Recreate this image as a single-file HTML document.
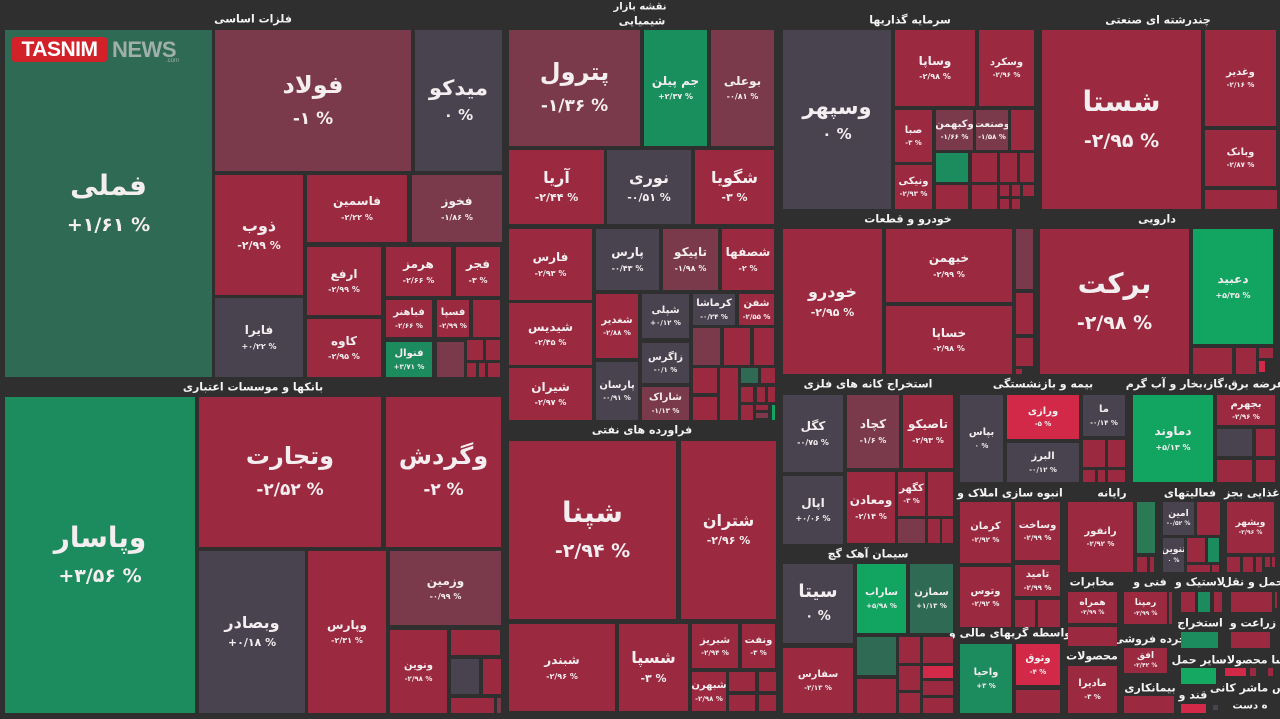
<!DOCTYPE html>
<html><head><meta charset="utf-8">
<style>
html,body{margin:0;padding:0}
body{width:1280px;height:719px;background:#2f2f2f;position:relative;overflow:hidden;font-family:"DejaVu Sans","Liberation Sans",sans-serif}
.t{position:absolute;display:flex;flex-direction:column;align-items:center;justify-content:center;color:#f4eef0;overflow:hidden;font-weight:bold;line-height:1.15;white-space:nowrap;direction:rtl}
.t b{font-weight:bold}
.t i{font-style:normal;direction:ltr;unicode-bidi:bidi-override}
.r{background:#9b2a40}.m{background:#7b3a4b}.g{background:#48434e}.dg{background:#2e6a54}.gr{background:#1c8b5d}.bg{background:#12a461}.br{background:#d12947}
.A b{font-size:28px}.A i{font-size:19px;margin-top:12px}
.B b{font-size:24px}.B i{font-size:17px;margin-top:10px}
.B2 b{font-size:21px}.B2 i{font-size:15px;margin-top:7px}
.C b{font-size:16px}.C i{font-size:11px;margin-top:5px}
.D b{font-size:12px}.D i{font-size:8px;margin-top:4px}
.E b{font-size:10px}.E i{font-size:7px;margin-top:3px}
.F b{font-size:9px}.F i{font-size:6px;margin-top:2px}
.l{position:absolute;transform:translate(-50%,-50%);color:#f4f4f4;font-weight:bold;font-size:11px;white-space:nowrap;direction:rtl}
</style></head><body>

<div class="l" style="left:640px;top:7px;font-size:10px">نقشه بازار</div>
<div class="l" style="left:253px;top:19px">فلزات اساسی</div>
<div class="l" style="left:642px;top:21px">شیمیایی</div>
<div class="l" style="left:910px;top:20px">سرمایه گذاریها</div>
<div class="l" style="left:1158px;top:20px">چندرشته ای صنعتی</div>
<div class="l" style="left:908px;top:219px">خودرو و قطعات</div>
<div class="l" style="left:1157px;top:219px">دارویی</div>
<div class="l" style="left:253px;top:387px">بانکها و موسسات اعتباری</div>
<div class="l" style="left:642px;top:430px">فراورده های نفتی</div>
<div class="l" style="left:868px;top:384px">استخراج کانه های فلزی</div>
<div class="l" style="left:1043px;top:384px">بیمه و بازنشستگی</div>
<div class="l" style="left:1205px;top:384px">عرضه برق،گاز،بخار و آب گرم</div>
<div class="l" style="left:868px;top:554px">سیمان آهک گچ</div>
<div class="l" style="left:1010px;top:493px">انبوه سازی املاک و</div>
<div class="l" style="left:1112px;top:493px">رایانه</div>
<div class="l" style="left:1190px;top:493px">فعالیتهای</div>
<div class="l" style="left:1252px;top:493px">غذایی بجز</div>
<div class="l" style="left:1092px;top:582px">مخابرات</div>
<div class="l" style="left:1150px;top:582px">فنی و</div>
<div class="l" style="left:1200px;top:582px">لاستیک و</div>
<div class="l" style="left:1253px;top:582px">حمل و نقل</div>
<div class="l" style="left:1200px;top:623px">استخراج</div>
<div class="l" style="left:1253px;top:623px">زراعت و</div>
<div class="l" style="left:1010px;top:633px">واسطه گریهای مالی و</div>
<div class="l" style="left:1092px;top:656px">محصولات</div>
<div class="l" style="left:1150px;top:639px">خرده فروشی</div>
<div class="l" style="left:1199px;top:660px">سایر حمل</div>
<div class="l" style="left:1253px;top:660px">اسا محصولات</div>
<div class="l" style="left:1150px;top:688px">بیمانکاری</div>
<div class="l" style="left:1193px;top:695px">قند و</div>
<div class="l" style="left:1252px;top:688px">وس ماشر کانی</div>
<div class="l" style="left:1250px;top:706px;font-size:10px">ه دست</div>

<!-- Metals -->
<div class="t dg A" style="left:5px;top:30px;width:207px;height:347px"><b>فملی</b><i>+۱/۶۱ %</i></div>
<div class="t m B" style="left:215px;top:30px;width:196px;height:141px"><b>فولاد</b><i>-۱ %</i></div>
<div class="t g B2" style="left:415px;top:30px;width:87px;height:141px"><b>میدکو</b><i>۰ %</i></div>
<div class="t r C" style="left:215px;top:175px;width:88px;height:120px"><b>ذوب</b><i>-۲/۹۹ %</i></div>
<div class="t g D" style="left:215px;top:298px;width:88px;height:79px"><b>فایرا</b><i>+۰/۲۲ %</i></div>
<div class="t r D" style="left:307px;top:175px;width:100px;height:67px"><b>فاسمین</b><i>-۲/۲۲ %</i></div>
<div class="t m D" style="left:412px;top:175px;width:90px;height:67px"><b>فخوز</b><i>-۱/۸۶ %</i></div>
<div class="t r D" style="left:307px;top:247px;width:74px;height:68px"><b>ارفع</b><i>-۲/۹۹ %</i></div>
<div class="t r D" style="left:307px;top:319px;width:74px;height:58px"><b>کاوه</b><i>-۲/۹۵ %</i></div>
<div class="t r D" style="left:386px;top:247px;width:65px;height:49px"><b>هرمز</b><i>-۲/۶۶ %</i></div>
<div class="t r D" style="left:456px;top:247px;width:44px;height:49px"><b>فجر</b><i>-۳ %</i></div>
<div class="t r E" style="left:386px;top:300px;width:46px;height:37px"><b>فباهنر</b><i>-۲/۶۶ %</i></div>
<div class="t r E" style="left:437px;top:300px;width:32px;height:37px"><b>فسپا</b><i>-۲/۹۹ %</i></div>
<div class="t r" style="left:473px;top:300px;width:27px;height:37px"></div>
<div class="t gr E" style="left:386px;top:342px;width:46px;height:35px"><b>فنوال</b><i>+۳/۷۱ %</i></div>
<div class="t m" style="left:437px;top:342px;width:27px;height:35px"></div>
<div class="t r" style="left:467px;top:340px;width:16px;height:20px"></div>
<div class="t r" style="left:486px;top:340px;width:14px;height:20px"></div>
<div class="t r" style="left:467px;top:363px;width:9px;height:14px"></div>
<div class="t r" style="left:479px;top:363px;width:6px;height:14px"></div>
<div class="t r" style="left:488px;top:363px;width:12px;height:14px"></div>

<!-- TASNIM logo -->
<div style="position:absolute;left:12px;top:37px;width:95px;height:25px;background:#d3212a;border-radius:3px;color:#fff;font-family:'Liberation Sans',sans-serif;font-weight:bold;font-size:21px;line-height:25px;text-align:center;letter-spacing:-0.5px">TASNIM</div>
<div style="position:absolute;left:112px;top:37px;width:68px;height:25px;color:#9fb0aa;font-family:'Liberation Sans',sans-serif;font-weight:bold;font-size:22px;line-height:25px;letter-spacing:-0.5px">NEWS</div>
<div style="position:absolute;left:166px;top:58px;color:#9fb0aa;font-family:'Liberation Sans',sans-serif;font-size:6px">.com</div>

<!-- Banks -->
<div class="t gr A" style="left:5px;top:397px;width:190px;height:316px"><b>وپاسار</b><i>+۳/۵۶ %</i></div>
<div class="t r B" style="left:199px;top:397px;width:182px;height:150px"><b>وتجارت</b><i>-۲/۵۲ %</i></div>
<div class="t r B" style="left:386px;top:397px;width:115px;height:150px"><b>وگردش</b><i>-۲ %</i></div>
<div class="t g C" style="left:199px;top:551px;width:106px;height:162px"><b>وبصادر</b><i>+۰/۱۸ %</i></div>
<div class="t r D" style="left:308px;top:551px;width:78px;height:162px"><b>وپارس</b><i>-۲/۳۱ %</i></div>
<div class="t m D" style="left:390px;top:551px;width:111px;height:74px"><b>وزمین</b><i>-۰/۹۹ %</i></div>
<div class="t r E" style="left:390px;top:630px;width:57px;height:83px"><b>ونوین</b><i>-۲/۹۸ %</i></div>
<div class="t r" style="left:451px;top:630px;width:49px;height:25px"></div>
<div class="t g" style="left:451px;top:659px;width:28px;height:35px"></div>
<div class="t r" style="left:483px;top:659px;width:18px;height:35px"></div>
<div class="t r" style="left:451px;top:698px;width:43px;height:15px"></div>
<div class="t m" style="left:497px;top:698px;width:4px;height:15px"></div>

<!-- Chemistry -->
<div class="t m B" style="left:509px;top:30px;width:131px;height:116px"><b>پترول</b><i>-۱/۳۶ %</i></div>
<div class="t gr D" style="left:644px;top:30px;width:63px;height:116px;background:#1a8f5e"><b>جم پیلن</b><i>+۲/۳۷ %</i></div>
<div class="t m D" style="left:711px;top:30px;width:63px;height:116px"><b>بوعلی</b><i>-۰/۸۱ %</i></div>
<div class="t r C" style="left:509px;top:150px;width:95px;height:74px"><b>آریا</b><i>-۲/۴۴ %</i></div>
<div class="t g C" style="left:607px;top:150px;width:84px;height:74px"><b>نوری</b><i>-۰/۵۱ %</i></div>
<div class="t r C" style="left:695px;top:150px;width:79px;height:74px"><b>شگویا</b><i>-۳ %</i></div>
<div class="t r D" style="left:509px;top:229px;width:83px;height:71px"><b>فارس</b><i>-۲/۹۳ %</i></div>
<div class="t g D" style="left:596px;top:229px;width:63px;height:61px"><b>پارس</b><i>-۰/۴۳ %</i></div>
<div class="t m D" style="left:663px;top:229px;width:55px;height:61px"><b>تاپیکو</b><i>-۱/۹۸ %</i></div>
<div class="t r D" style="left:722px;top:229px;width:52px;height:61px"><b>شصفها</b><i>-۲ %</i></div>
<div class="t r D" style="left:509px;top:303px;width:83px;height:62px"><b>شیدیس</b><i>-۲/۴۵ %</i></div>
<div class="t r D" style="left:509px;top:368px;width:83px;height:52px"><b>شیران</b><i>-۲/۹۷ %</i></div>
<div class="t r E" style="left:596px;top:294px;width:42px;height:64px"><b>شغدیر</b><i>-۲/۸۸ %</i></div>
<div class="t g E" style="left:596px;top:362px;width:42px;height:58px"><b>پارسان</b><i>-۰/۹۱ %</i></div>
<div class="t g E" style="left:642px;top:294px;width:47px;height:44px"><b>شپلی</b><i>+۰/۱۲ %</i></div>
<div class="t g E" style="left:642px;top:343px;width:47px;height:40px"><b>زاگرس</b><i>-۰/۱ %</i></div>
<div class="t m E" style="left:642px;top:387px;width:47px;height:33px"><b>شاراک</b><i>-۱/۱۳ %</i></div>
<div class="t g E" style="left:693px;top:294px;width:42px;height:31px"><b>کرماشا</b><i>-۰/۲۴ %</i></div>
<div class="t r E" style="left:739px;top:294px;width:35px;height:31px"><b>شفن</b><i>-۲/۵۵ %</i></div>
<div class="t m" style="left:693px;top:328px;width:27px;height:37px"></div>
<div class="t r" style="left:724px;top:328px;width:26px;height:37px"></div>
<div class="t r" style="left:754px;top:328px;width:20px;height:37px"></div>
<div class="t r" style="left:693px;top:368px;width:24px;height:25px"></div>
<div class="t r" style="left:693px;top:397px;width:24px;height:23px"></div>
<div class="t r" style="left:720px;top:368px;width:18px;height:52px"></div>
<div class="t dg" style="left:741px;top:368px;width:17px;height:15px"></div>
<div class="t r" style="left:761px;top:368px;width:14px;height:15px"></div>
<div class="t r" style="left:741px;top:387px;width:12px;height:15px"></div>
<div class="t r" style="left:757px;top:387px;width:8px;height:15px"></div>
<div class="t r" style="left:768px;top:387px;width:7px;height:15px"></div>
<div class="t r" style="left:741px;top:405px;width:12px;height:15px"></div>
<div class="t r" style="left:756px;top:405px;width:12px;height:5px"></div>
<div class="t m" style="left:756px;top:413px;width:12px;height:5px"></div>
<div class="t bg" style="left:772px;top:405px;width:3px;height:15px"></div>

<!-- Oil products -->
<div class="t r A" style="left:509px;top:441px;width:167px;height:178px"><b>شپنا</b><i>-۲/۹۴ %</i></div>
<div class="t r C" style="left:681px;top:441px;width:95px;height:178px"><b>شتران</b><i>-۲/۹۶ %</i></div>
<div class="t r D" style="left:509px;top:624px;width:106px;height:87px"><b>شبندر</b><i>-۲/۹۶ %</i></div>
<div class="t r C" style="left:619px;top:624px;width:69px;height:87px"><b>شسپا</b><i>-۳ %</i></div>
<div class="t r E" style="left:692px;top:624px;width:46px;height:44px"><b>شبریز</b><i>-۲/۹۴ %</i></div>
<div class="t r E" style="left:742px;top:624px;width:33px;height:44px"><b>ونفت</b><i>-۳ %</i></div>
<div class="t r E" style="left:692px;top:672px;width:34px;height:39px"><b>شبهرن</b><i>-۲/۹۸ %</i></div>
<div class="t r" style="left:729px;top:672px;width:26px;height:19px"></div>
<div class="t r" style="left:729px;top:695px;width:26px;height:16px"></div>
<div class="t r" style="left:759px;top:672px;width:17px;height:19px"></div>
<div class="t r" style="left:759px;top:695px;width:17px;height:16px"></div>

<!-- Investments -->
<div class="t g B2" style="left:783px;top:30px;width:108px;height:179px"><b>وسپهر</b><i>۰ %</i></div>
<div class="t r D" style="left:895px;top:30px;width:80px;height:76px"><b>وساپا</b><i>-۲/۹۸ %</i></div>
<div class="t r E" style="left:979px;top:30px;width:55px;height:76px"><b>وسکرد</b><i>-۲/۹۶ %</i></div>
<div class="t r E" style="left:895px;top:110px;width:37px;height:52px"><b>صبا</b><i>-۳ %</i></div>
<div class="t m E" style="left:936px;top:110px;width:37px;height:40px"><b>وکبهمن</b><i>-۱/۶۶ %</i></div>
<div class="t m E" style="left:976px;top:110px;width:32px;height:40px"><b>وصنعت</b><i>-۱/۵۸ %</i></div>
<div class="t r" style="left:1011px;top:110px;width:23px;height:40px"></div>
<div class="t r E" style="left:895px;top:165px;width:37px;height:44px"><b>ونیکی</b><i>-۲/۹۳ %</i></div>
<div class="t gr" style="left:936px;top:153px;width:32px;height:29px"></div>
<div class="t r" style="left:936px;top:185px;width:32px;height:24px"></div>
<div class="t r" style="left:972px;top:153px;width:25px;height:29px"></div>
<div class="t r" style="left:972px;top:185px;width:25px;height:24px"></div>
<div class="t r" style="left:1000px;top:153px;width:17px;height:29px"></div>
<div class="t r" style="left:1020px;top:153px;width:14px;height:29px"></div>
<div class="t r" style="left:1000px;top:185px;width:9px;height:11px"></div>
<div class="t r" style="left:1012px;top:185px;width:8px;height:11px"></div>
<div class="t r" style="left:1023px;top:185px;width:11px;height:11px"></div>
<div class="t r" style="left:1000px;top:199px;width:9px;height:10px"></div>
<div class="t r" style="left:1012px;top:199px;width:8px;height:10px"></div>

<!-- Multi-industry -->
<div class="t r A" style="left:1042px;top:30px;width:159px;height:179px"><b>شستا</b><i>-۲/۹۵ %</i></div>
<div class="t r E" style="left:1205px;top:30px;width:71px;height:96px"><b>وغدیر</b><i>-۲/۱۶ %</i></div>
<div class="t r E" style="left:1205px;top:130px;width:71px;height:56px"><b>وبانک</b><i>-۲/۸۷ %</i></div>
<div class="t r" style="left:1205px;top:190px;width:72px;height:19px"></div>

<!-- Auto -->
<div class="t r C" style="left:783px;top:229px;width:99px;height:145px"><b>خودرو</b><i>-۲/۹۵ %</i></div>
<div class="t r D" style="left:886px;top:229px;width:126px;height:73px"><b>خبهمن</b><i>-۲/۹۹ %</i></div>
<div class="t r D" style="left:886px;top:306px;width:126px;height:68px"><b>خساپا</b><i>-۲/۹۸ %</i></div>
<div class="t m" style="left:1016px;top:229px;width:17px;height:60px"></div>
<div class="t r" style="left:1016px;top:293px;width:17px;height:41px"></div>
<div class="t r" style="left:1016px;top:338px;width:17px;height:28px"></div>
<div class="t r" style="left:1016px;top:369px;width:6px;height:5px"></div>

<!-- Pharma -->
<div class="t r A" style="left:1040px;top:229px;width:149px;height:145px"><b>برکت</b><i>-۲/۹۸ %</i></div>
<div class="t bg D" style="left:1193px;top:229px;width:80px;height:115px"><b>دعبید</b><i>+۵/۳۵ %</i></div>
<div class="t r" style="left:1193px;top:348px;width:39px;height:26px"></div>
<div class="t r" style="left:1236px;top:348px;width:20px;height:26px"></div>
<div class="t r" style="left:1259px;top:348px;width:14px;height:10px"></div>
<div class="t br" style="left:1259px;top:361px;width:6px;height:11px"></div>

<!-- Mining -->
<div class="t g D" style="left:783px;top:395px;width:60px;height:77px"><b>کگل</b><i>-۰/۷۵ %</i></div>
<div class="t m D" style="left:847px;top:395px;width:52px;height:73px"><b>کچاد</b><i>-۱/۶ %</i></div>
<div class="t r D" style="left:903px;top:395px;width:50px;height:73px"><b>تاصیکو</b><i>-۲/۹۳ %</i></div>
<div class="t g D" style="left:783px;top:476px;width:60px;height:68px"><b>اپال</b><i>+۰/۰۶ %</i></div>
<div class="t r D" style="left:847px;top:472px;width:48px;height:71px"><b>ومعادن</b><i>-۲/۱۴ %</i></div>
<div class="t r E" style="left:898px;top:472px;width:27px;height:44px"><b>کگهر</b><i>-۳ %</i></div>
<div class="t r" style="left:928px;top:472px;width:25px;height:44px"></div>
<div class="t m" style="left:898px;top:519px;width:27px;height:24px"></div>
<div class="t r" style="left:928px;top:519px;width:12px;height:24px"></div>
<div class="t r" style="left:942px;top:519px;width:11px;height:24px"></div>

<!-- Cement -->
<div class="t g B2" style="left:783px;top:564px;width:70px;height:79px"><b style="font-size:18px">سیتا</b><i style="font-size:13px">۰ %</i></div>
<div class="t bg E" style="left:857px;top:564px;width:49px;height:69px"><b>ساراب</b><i>+۵/۹۸ %</i></div>
<div class="t dg E" style="left:910px;top:564px;width:43px;height:69px"><b>سمازن</b><i>+۱/۱۳ %</i></div>
<div class="t r E" style="left:783px;top:648px;width:70px;height:65px"><b>سفارس</b><i>-۲/۱۳ %</i></div>
<div class="t dg" style="left:857px;top:637px;width:39px;height:38px"></div>
<div class="t r" style="left:857px;top:679px;width:39px;height:34px"></div>
<div class="t r" style="left:899px;top:637px;width:21px;height:26px"></div>
<div class="t r" style="left:923px;top:637px;width:30px;height:26px"></div>
<div class="t br" style="left:923px;top:666px;width:30px;height:12px"></div>
<div class="t r" style="left:899px;top:666px;width:21px;height:24px"></div>
<div class="t r" style="left:899px;top:693px;width:21px;height:20px"></div>
<div class="t r" style="left:923px;top:681px;width:30px;height:14px"></div>
<div class="t r" style="left:923px;top:698px;width:30px;height:15px"></div>

<!-- Insurance -->
<div class="t g E" style="left:960px;top:395px;width:43px;height:87px"><b>بپاس</b><i>۰ %</i></div>
<div class="t br E" style="left:1007px;top:395px;width:72px;height:44px"><b>ورازی</b><i>-۵ %</i></div>
<div class="t g E" style="left:1007px;top:443px;width:72px;height:39px"><b>البرز</b><i>-۰/۱۲ %</i></div>
<div class="t g E" style="left:1083px;top:395px;width:42px;height:41px"><b>ما</b><i>-۰/۱۴ %</i></div>
<div class="t r" style="left:1083px;top:440px;width:22px;height:27px"></div>
<div class="t r" style="left:1108px;top:440px;width:17px;height:27px"></div>
<div class="t r" style="left:1083px;top:470px;width:12px;height:12px"></div>
<div class="t r" style="left:1098px;top:470px;width:7px;height:12px"></div>
<div class="t r" style="left:1108px;top:470px;width:17px;height:12px"></div>

<!-- Energy -->
<div class="t bg D" style="left:1133px;top:395px;width:80px;height:87px"><b>دماوند</b><i>+۵/۱۳ %</i></div>
<div class="t r E" style="left:1217px;top:395px;width:58px;height:30px"><b>بجهرم</b><i>-۲/۹۶ %</i></div>
<div class="t g" style="left:1217px;top:429px;width:35px;height:27px"></div>
<div class="t r" style="left:1256px;top:429px;width:19px;height:27px"></div>
<div class="t r" style="left:1217px;top:460px;width:35px;height:22px"></div>
<div class="t r" style="left:1256px;top:460px;width:19px;height:22px"></div>

<!-- Real estate -->
<div class="t r E" style="left:960px;top:502px;width:51px;height:61px"><b>کرمان</b><i>-۲/۹۲ %</i></div>
<div class="t r E" style="left:1015px;top:502px;width:45px;height:58px"><b>وساخت</b><i>-۲/۹۹ %</i></div>
<div class="t r E" style="left:960px;top:567px;width:51px;height:60px"><b>وتوس</b><i>-۲/۹۲ %</i></div>
<div class="t r E" style="left:1015px;top:565px;width:45px;height:31px"><b>تامید</b><i>-۲/۹۹ %</i></div>
<div class="t r" style="left:1015px;top:600px;width:20px;height:27px"></div>
<div class="t r" style="left:1038px;top:600px;width:22px;height:27px"></div>

<!-- Computer -->
<div class="t r E" style="left:1068px;top:502px;width:65px;height:70px"><b>رانفور</b><i>-۲/۹۲ %</i></div>
<div class="t gr" style="left:1137px;top:502px;width:18px;height:51px;background:#2a7a56"></div>
<div class="t r" style="left:1137px;top:557px;width:10px;height:15px"></div>
<div class="t r" style="left:1150px;top:557px;width:4px;height:15px"></div>

<!-- Activities -->
<div class="t g F" style="left:1163px;top:502px;width:31px;height:33px"><b>امین</b><i>-۰/۵۲ %</i></div>
<div class="t r" style="left:1197px;top:502px;width:23px;height:33px"></div>
<div class="t g F" style="left:1163px;top:538px;width:21px;height:34px"><b>تنوین</b><i>۰ %</i></div>
<div class="t r" style="left:1187px;top:538px;width:18px;height:24px"></div>
<div class="t gr" style="left:1208px;top:538px;width:11px;height:24px"></div>
<div class="t r" style="left:1187px;top:565px;width:23px;height:7px"></div>
<div class="t r" style="left:1212px;top:565px;width:7px;height:7px"></div>

<!-- Food -->
<div class="t r F" style="left:1227px;top:502px;width:47px;height:51px"><b>ویشهر</b><i>-۲/۹۶ %</i></div>
<div class="t r" style="left:1227px;top:557px;width:13px;height:15px"></div>
<div class="t r" style="left:1243px;top:557px;width:10px;height:15px"></div>
<div class="t r" style="left:1256px;top:557px;width:6px;height:15px"></div>
<div class="t r" style="left:1265px;top:557px;width:5px;height:10px"></div>
<div class="t r" style="left:1272px;top:557px;width:3px;height:10px"></div>

<!-- Telecom / products -->
<div class="t r F" style="left:1068px;top:592px;width:49px;height:31px"><b>همراه</b><i>-۲/۹۹ %</i></div>
<div class="t r" style="left:1068px;top:627px;width:49px;height:19px"></div>
<div class="t r E" style="left:1068px;top:666px;width:49px;height:47px"><b>مادیرا</b><i>-۳ %</i></div>

<!-- Tech / retail / contracting -->
<div class="t r F" style="left:1124px;top:592px;width:43px;height:32px"><b>رمپنا</b><i>-۲/۹۹ %</i></div>
<div class="t r" style="left:1169px;top:592px;width:3px;height:32px"></div>
<div class="t r F" style="left:1124px;top:648px;width:43px;height:25px"><b>افق</b><i>-۲/۴۲ %</i></div>
<div class="t r" style="left:1124px;top:696px;width:50px;height:17px"></div>

<!-- Tire etc -->
<div class="t r" style="left:1181px;top:592px;width:14px;height:20px"></div>
<div class="t gr" style="left:1198px;top:592px;width:12px;height:20px"></div>
<div class="t r" style="left:1214px;top:592px;width:8px;height:20px"></div>
<div class="t gr" style="left:1181px;top:632px;width:37px;height:16px"></div>
<div class="t bg" style="left:1181px;top:668px;width:35px;height:16px;background:#14a862"></div>
<div class="t br" style="left:1181px;top:704px;width:25px;height:9px"></div>
<div class="t g" style="left:1213px;top:705px;width:5px;height:5px"></div>

<div class="t r" style="left:1231px;top:592px;width:41px;height:20px"></div>
<div class="t r" style="left:1275px;top:592px;width:2px;height:16px"></div>
<div class="t r" style="left:1231px;top:632px;width:39px;height:16px"></div>
<div class="t br" style="left:1225px;top:668px;width:21px;height:8px"></div>
<div class="t r" style="left:1250px;top:668px;width:6px;height:8px"></div>
<div class="t r" style="left:1268px;top:668px;width:5px;height:8px"></div>

<!-- Financial intermediaries -->
<div class="t gr E" style="left:960px;top:644px;width:52px;height:69px"><b>واحیا</b><i>+۳ %</i></div>
<div class="t br E" style="left:1016px;top:644px;width:44px;height:41px"><b>وثوق</b><i>-۴ %</i></div>
<div class="t r" style="left:1016px;top:690px;width:44px;height:23px"></div>

</body></html>
